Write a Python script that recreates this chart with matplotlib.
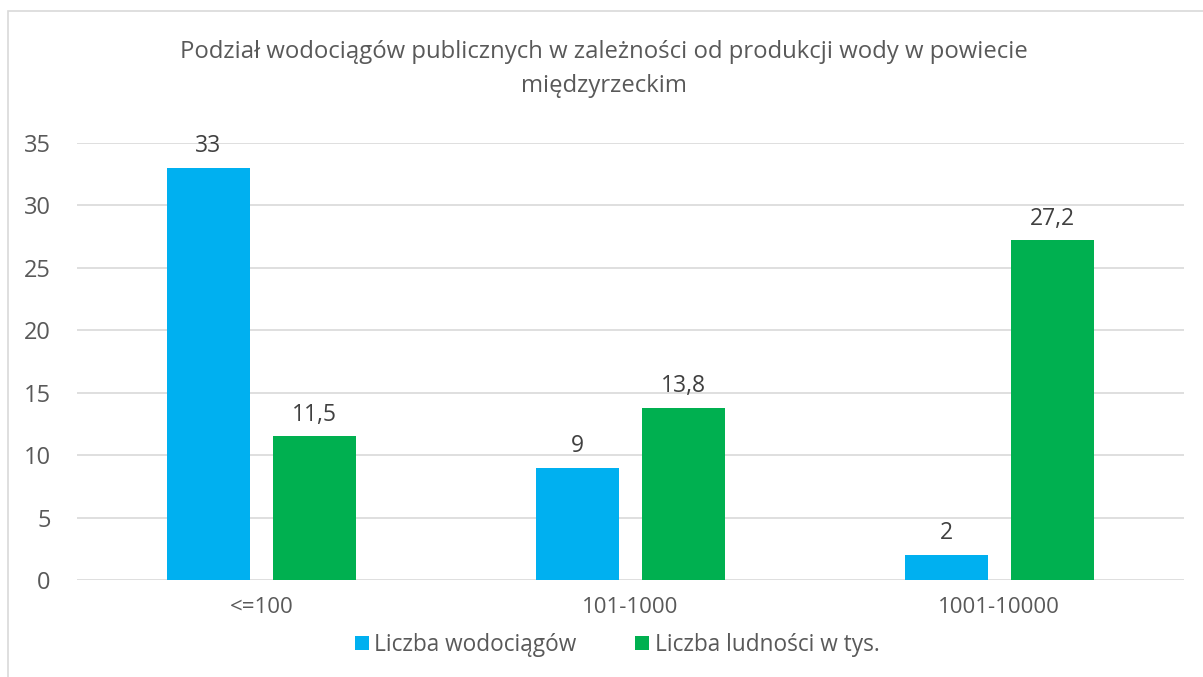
import matplotlib.pyplot as plt
import numpy as np
from matplotlib.patches import Rectangle

plt.rcParams['font.family'] = ['Open Sans', 'DejaVu Sans']

categories = ['<=100', '101-1000', '1001-10000']
wodociagi = [33, 9, 2]
ludnosc = [11.5, 13.8, 27.2]
labels_w = ['33', '9', '2']
labels_l = ['11,5', '13,8', '27,2']

text_col = '#595959'
blue = '#00B0F0'
green = '#00B050'

fig = plt.figure(figsize=(12.03, 6.77), dpi=100)
ax = fig.add_axes([0.064, 0.1433, 0.920, 0.6455])

x = np.arange(len(categories))
w = 0.225
off = 0.144
b1 = ax.bar(x - off, wodociagi, w, color=blue, label='Liczba wodociągów', zorder=3)
b2 = ax.bar(x + off, ludnosc, w, color=green, label='Liczba ludności w tys.', zorder=3)

for rect, lab in zip(b1, labels_w):
    ax.annotate(lab, (rect.get_x() + rect.get_width() / 2, rect.get_height()),
                xytext=(0, 7), textcoords='offset points', ha='center', va='bottom',
                fontsize=16.5, color='#404040')
for rect, lab in zip(b2, labels_l):
    ax.annotate(lab, (rect.get_x() + rect.get_width() / 2, rect.get_height()),
                xytext=(0, 7), textcoords='offset points', ha='center', va='bottom',
                fontsize=16.5, color='#404040')

ax.set_xlim(-0.5, 2.5)
ax.set_ylim(0, 35)
ax.set_yticks(range(0, 36, 5))
ax.set_xticks(x)
ax.set_xticklabels(categories)
ax.tick_params(axis='y', length=0, pad=19, labelsize=17, labelcolor=text_col)
ax.tick_params(axis='x', length=0, pad=12, labelsize=16, labelcolor=text_col)
ax.grid(axis='y', color='#d9d9d9', linewidth=1.2, zorder=0)
for s in ax.spines.values():
    s.set_visible(False)

fig.text(0.502, 0.898, 'Podział wodociągów publicznych w zależności od produkcji wody w powiecie\nmiędzyrzeckim',
         ha='center', va='center', fontsize=17.2, color=text_col, linespacing=1.6)

fig.legend(loc='center', bbox_to_anchor=(0.513, 0.047), ncol=2, frameon=False,
           fontsize=16.3, labelcolor=text_col, handlelength=0.6, handleheight=0.6,
           handletextpad=0.25, columnspacing=2.6)

fig.patches.append(Rectangle((8 / 1203, -0.1), 1.2, 1 - 11 / 677 + 0.1,
                             transform=fig.transFigure, fill=False,
                             edgecolor='#d9d9d9', linewidth=1.2))

fig.savefig('out.png', dpi=100)
